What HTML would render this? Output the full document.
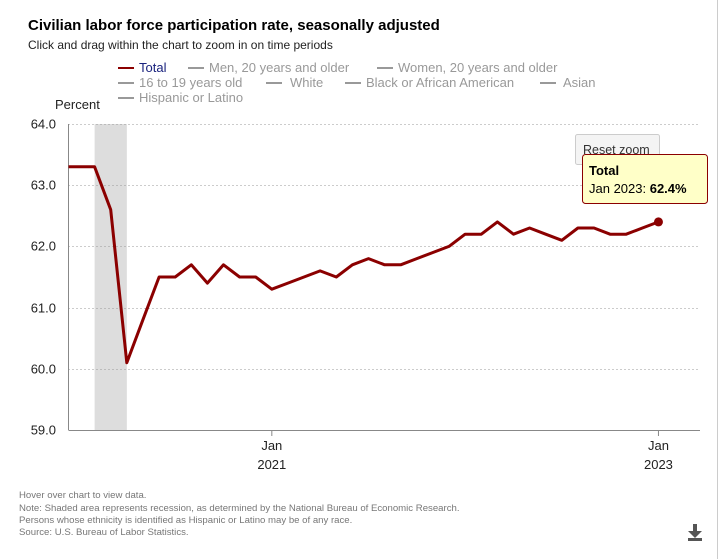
<!DOCTYPE html>
<html><head><meta charset="utf-8"><style>
body{margin:0;background:#fff;font-family:"Liberation Sans",sans-serif;}
#wrap{position:relative;width:721px;height:559px;overflow:hidden;}
</style></head><body>
<div id="wrap">
<svg id="chart" width="721" height="559" xmlns="http://www.w3.org/2000/svg" font-family="Liberation Sans, DejaVu Sans, sans-serif">
<line x1="717.5" y1="0" x2="717.5" y2="559" stroke="#ccc"/>
<text x="28" y="30" font-size="15" font-weight="bold" fill="#000">Civilian labor force participation rate, seasonally adjusted</text>
<text x="28" y="49" font-size="12" fill="#222">Click and drag within the chart to zoom in on time periods</text>
<g font-size="13">
<g><line x1="118" y1="68" x2="134" y2="68" stroke="#8b0000" stroke-width="2"/><text x="139" y="72" fill="#1a237e">Total</text></g>
<g><line x1="188" y1="68" x2="204" y2="68" stroke="#999" stroke-width="2"/><text x="209" y="72" fill="#999">Men, 20 years and older</text></g>
<g><line x1="377" y1="68" x2="393" y2="68" stroke="#999" stroke-width="2"/><text x="398" y="72" fill="#999">Women, 20 years and older</text></g>
<g><line x1="118" y1="83" x2="134" y2="83" stroke="#999" stroke-width="2"/><text x="139" y="87" fill="#999">16 to 19 years old</text></g>
<g><line x1="266" y1="83" x2="282" y2="83" stroke="#999" stroke-width="2"/><text x="290" y="87" fill="#999">White</text></g>
<g><line x1="345" y1="83" x2="361" y2="83" stroke="#999" stroke-width="2"/><text x="366" y="87" fill="#999">Black or African American</text></g>
<g><line x1="540" y1="83" x2="556" y2="83" stroke="#999" stroke-width="2"/><text x="563" y="87" fill="#999">Asian</text></g>
<g><line x1="118" y1="98" x2="134" y2="98" stroke="#999" stroke-width="2"/><text x="139" y="102" fill="#999">Hispanic or Latino</text></g>
</g>
<text x="55" y="109" font-size="13" fill="#222">Percent</text>
<g id="grid"></g>
<g id="marks"></g>
<g><rect x="575.5" y="134.5" width="84" height="30" rx="2" fill="#f4f4f4" stroke="#ccc"/><text x="583" y="154" font-size="12.5" fill="#333">Reset zoom</text></g>
<g><rect x="582.5" y="154.5" width="125" height="49" rx="3" fill="#ffffc8" stroke="#8b0000"/><text x="589" y="175" font-size="13" font-weight="bold" fill="#000">Total</text><text x="589" y="193" font-size="13" fill="#000">Jan 2023: <tspan font-weight="bold">62.4%</tspan></text></g>
<g font-size="9.6" fill="#777">
<text x="19" y="498">Hover over chart to view data.</text>
<text x="19" y="511">Note: Shaded area represents recession, as determined by the National Bureau of Economic Research.</text>
<text x="19" y="523">Persons whose ethnicity is identified as Hispanic or Latino may be of any race.</text>
<text x="19" y="535">Source: U.S. Bureau of Labor Statistics.</text>
</g>
<g fill="#555"><rect x="688" y="538" width="14" height="3"/><rect x="693" y="524" width="4" height="8"/><polygon points="688,531 702,531 695,538"/></g>
</svg>
<script>
const months = ["Dec 2019","Jan 2020","Feb 2020","Mar 2020","Apr 2020","May 2020","Jun 2020","Jul 2020","Aug 2020","Sep 2020","Oct 2020","Nov 2020","Dec 2020","Jan 2021","Feb 2021","Mar 2021","Apr 2021","May 2021","Jun 2021","Jul 2021","Aug 2021","Sep 2021","Oct 2021","Nov 2021","Dec 2021","Jan 2022","Feb 2022","Mar 2022","Apr 2022","May 2022","Jun 2022","Jul 2022","Aug 2022","Sep 2022","Oct 2022","Nov 2022","Dec 2022","Jan 2023"];
const totalRate = [63.3,63.3,63.3,62.6,60.1,60.8,61.5,61.5,61.7,61.4,61.7,61.5,61.5,61.3,61.4,61.5,61.6,61.5,61.7,61.8,61.7,61.7,61.8,61.9,62.0,62.2,62.2,62.4,62.2,62.3,62.2,62.1,62.3,62.3,62.2,62.2,62.3,62.4];
const yTicks = [59.0,60.0,61.0,62.0,63.0,64.0];
const xTickIdx = [13,37];
const xTickLabels = [["Jan","2021"],["Jan","2023"]];
const recession = [2,4];

const NS="http://www.w3.org/2000/svg";
const L=68.5,R=700,T=124,B=430,yMin=59,yMax=64;
const x0=78.5,step=16.11;
const xs=i=>x0+(i-1)*step;
const ys=v=>B-(v-yMin)/(yMax-yMin)*(B-T);
function mk(t,a,p){const e=document.createElementNS(NS,t);for(const k in a)e.setAttribute(k,a[k]);p.appendChild(e);return e;}
const grid=document.getElementById('grid'),marks=document.getElementById('marks');
const sh=mk('rect',{x:xs(recession[0]),y:T,width:xs(recession[1])-xs(recession[0]),height:B-T,fill:'#ddd'},grid);


yTicks.forEach(v=>{
  const y=Math.round(ys(v))+0.5;
  if(v>yMin){const g=mk('line',{x1:L,x2:R,y1:y,y2:y,stroke:'#999','stroke-dasharray':'1,3'},grid);
  
  }
  const t=mk('text',{x:56,y:y+4,'font-size':13,fill:'#222','text-anchor':'end'},grid);t.textContent=v.toFixed(1);
  
  
});
const ax=mk('line',{x1:L,x2:L,y1:T,y2:B,stroke:'#888'},grid);


const xa=mk('line',{x1:L,x2:R,y1:B+0.5,y2:B+0.5,stroke:'#888'},grid);


xTickIdx.forEach((idx,k)=>{
  const x=xs(idx);
  const tk=mk('line',{x1:x,x2:x,y1:B,y2:B+6,stroke:'#888'},grid);
  
  
  xTickLabels[k].forEach((s,j)=>{const t=mk('text',{x:x,y:B+20+j*19,'font-size':13,fill:'#222','text-anchor':'middle'},grid);t.textContent=s;
  
  });
});
mk('clipPath',{id:'clip'},marks).appendChild(document.createElementNS(NS,'rect'));
const cr=marks.querySelector('#clip rect');cr.setAttribute('x',L);cr.setAttribute('y',0);cr.setAttribute('width',R-L+20);cr.setAttribute('height',B);
const d=totalRate.map((v,i)=>(i?'L':'M')+xs(i).toFixed(1)+','+ys(v).toFixed(1)).join(' ');
const line=mk('path',{d:d,fill:'none',stroke:'#8b0000','stroke-width':3,'stroke-linejoin':'round','clip-path':'url(#clip)'},marks);


const last=totalRate.length-1;
const pt=mk('circle',{cx:xs(last),cy:ys(totalRate[last]),r:4.5,fill:'#8b0000'},marks);


</script>
</div>
</body></html>
